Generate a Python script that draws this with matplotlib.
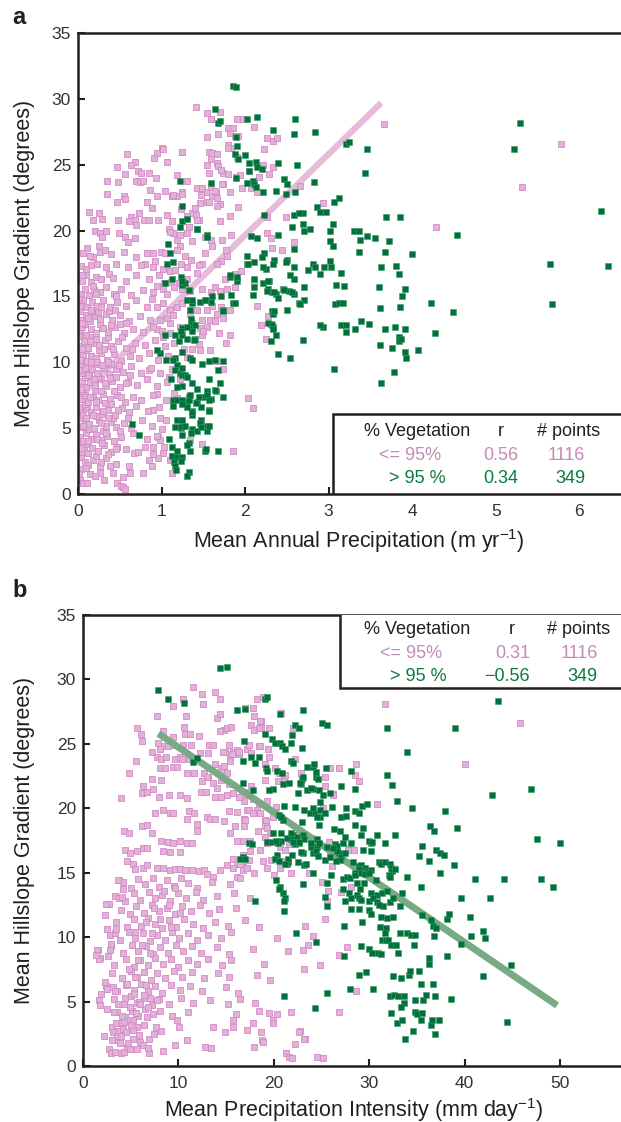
import matplotlib
matplotlib.use('Agg')
import matplotlib.pyplot as plt
from matplotlib.patches import Rectangle

plt.rcParams['font.family'] = ['Liberation Sans', 'DejaVu Sans']
plt.rcParams['mathtext.fontset'] = 'custom'
plt.rcParams['mathtext.rm'] = 'Liberation Sans'
plt.rcParams['mathtext.it'] = 'Liberation Sans:italic'
plt.rcParams['mathtext.default'] = 'regular'

# ---- panel a: mean annual precipitation (m/yr) vs hillslope gradient (deg) ----
A_PINK = [
    (1.41,29.4),(1.54,28.9),(1.59,28.5),(1.70,29.0),(1.80,27.8),(1.85,27.8),(1.82,27.4),(1.88,27.2),(1.92,27.2),
    (1.90,28.5),(1.97,28.5),(2.11,27.9),(1.67,27.3),(1.54,27.1),(1.80,26.5),(1.83,26.3),(1.25,26.0),(1.00,26.3),
    (0.94,25.9),(0.91,25.5),(0.59,25.8),(0.68,25.2),(0.63,25.0),(0.47,24.8),(0.35,23.8),(0.48,23.7),(0.56,24.3),
    (0.72,24.5),(0.76,24.4),(0.70,23.8),(0.74,23.7),(0.78,23.8),(0.85,24.4),(0.35,22.8),(0.47,22.2),(0.55,22.6),
    (0.56,22.4),(0.13,21.4),(0.25,21.3),(0.29,20.9),(0.18,20.8),(0.11,18.7),(0.25,18.8),(0.26,18.4),(0.32,18.5),
    (0.48,20.8),(0.63,21.0),(0.61,20.7),(0.68,20.8),(0.73,21.3),(0.70,20.4),(0.79,20.8),(0.85,20.8),(0.88,21.7),
    (0.82,22.2),(0.94,22.6),(1.04,23.0),(1.12,22.6),(1.18,22.6),(1.24,22.9),(1.30,23.8),(1.42,23.2),(1.49,23.2),
    (1.55,22.9),(1.46,22.1),(1.54,22.2),(1.60,22.6),(1.65,22.9),(1.70,22.0),(1.74,23.5),(1.82,22.9),(1.54,25.0),
    (1.59,25.4),(1.66,25.1),(1.73,24.4),(1.79,24.3),(1.57,24.4),(1.57,26.0),(1.61,25.9),(1.66,25.8),(1.23,21.6),
    (1.36,21.3),(1.45,20.8),(1.33,20.3),(1.09,20.1),(1.14,19.8),(1.18,19.3),(1.22,18.8),(0.99,18.4),(0.90,18.3),
    (0.82,18.3),(0.80,17.5),(0.90,17.2),(0.49,19.8),(0.56,19.5),(0.60,19.1),(0.68,19.4),(0.20,20.0),(0.26,19.8),
    (0.29,19.5),(0.33,20.0),(0.18,18.0),(0.23,17.5),(0.37,16.7),
    (2.26,19.8),(2.31,19.4),(2.44,18.5),(2.58,19.1),(2.66,23.4),(3.66,28.1),(5.78,26.6),(5.32,23.3),(4.28,20.3),
    (2.93,22.1),(2.49,21.0),(2.32,18.7),(2.26,21.0),(2.21,25.0),(2.29,24.3),(2.33,24.8),(2.26,27.0),(2.33,26.8),
    (2.38,27.0),(2.23,26.2),(2.14,22.9),(2.17,24.1),(2.11,16.2),(2.14,14.3),(2.27,13.5),(2.19,12.8),(2.25,11.8),
    (2.03,7.3),(2.10,6.5),(1.86,3.3),(1.82,12.1),(1.77,11.5),
    (1.02,26.2),(1.06,25.2),(1.24,26.0),(1.79,26.3),(1.90,25.6),(1.67,24.9),(1.71,24.6),(1.89,24.1),(1.94,24.2),
    (2.05,24.5),(1.18,24.2),(0.93,24.0),(0.86,23.1),(1.59,23.3),(1.64,23.0),(1.72,23.5),(1.96,23.2),(2.07,23.2),
    (1.14,22.7),(1.24,22.8),(1.47,22.7),(1.66,22.5),(1.57,22.2),(1.66,21.9),(1.40,21.7),(0.96,20.8),(1.06,21.2),
    (1.12,20.7),(1.30,21.1),(1.41,21.2),(1.43,20.8),(1.70,20.7),(1.82,21.1),(1.92,21.8),
    (1.10,19.9),(1.22,19.7),(1.31,19.8),(1.37,19.2),(1.52,19.5),(1.59,19.3),(1.72,19.3),(1.83,19.7),(1.61,18.8),
    (1.52,18.3),(1.77,18.5),(1.78,18.1),(1.71,17.7),(1.66,17.5),(1.49,17.5),(1.45,17.4),(1.35,17.8),(1.28,18.1),
    (1.19,18.5),(1.04,18.3),(0.92,17.7),(1.02,17.1),(1.10,16.9),(1.16,17.0),(1.23,17.5),(1.30,17.2),(1.42,16.8),
    (1.30,16.3),(1.21,16.0),(1.11,16.1),(1.03,16.0),(0.94,15.8),(0.88,14.8),(1.02,15.6),(1.24,15.6),(1.34,15.4),
    (1.49,15.6),(1.59,15.3),(1.64,15.7),(1.70,15.4),(1.78,15.6),(1.88,15.7),(1.95,16.9),(1.88,16.7),(1.76,16.3),
    (0.94,14.2),(1.02,14.5),(1.10,14.0),(1.18,14.2),(1.25,14.5),(1.34,13.7),(1.42,14.0),(1.49,13.2),(1.58,13.2),
    (1.66,13.7),(1.73,13.4),(1.82,14.0),(0.86,13.2),(0.98,13.2),(1.10,13.0),(1.22,12.7),(1.37,13.0),(1.54,12.7),
    (1.54,14.0),(1.60,14.3),(1.71,14.2),(1.69,12.2),(1.64,13.1),(1.46,12.6),(1.49,12.1),(1.10,12.2),(1.02,11.9),
    (0.94,12.5),(1.27,11.0),(1.36,11.0),(1.46,10.9),(1.58,10.9),(1.65,10.1),(1.74,9.5),(0.85,9.4),(0.98,9.2),
    (1.09,8.9),(1.22,8.7),(1.18,7.3),(1.05,7.1),(0.94,7.6),(0.90,6.4),(0.98,5.8),(1.05,5.6),(1.00,4.9),(0.96,4.3),
    (0.90,3.6),(1.03,3.6),(1.12,2.9),(1.10,2.6),(1.34,4.1),(1.49,3.8),(1.13,1.6),(1.02,3.1),(0.96,2.7),
    (0.02,1.1),(0.06,0.8),(0.11,0.8),(0.26,1.6),(0.31,1.1),(0.47,0.8),(0.51,0.6),(0.54,0.5),(0.56,0.4),(0.54,1.3),
    (0.42,1.6),(0.38,2.1),(0.26,2.1),(0.18,2.6),(0.61,2.1),(0.62,1.6),(0.67,3.1),(0.85,2.6),(0.88,2.1),(0.78,1.6),
    (0.98,4.1),(0.80,3.6),(0.03,1.9),(0.08,2.4),(0.14,1.5),(0.22,2.9),(0.34,2.7),(0.45,2.3),(0.04,2.8),(0.12,2.2),
    (0.03,3.2),(0.07,3.6),(0.12,3.1),(0.17,3.5),(0.24,3.3),(0.31,3.7),(0.40,3.2),(0.47,3.6),(0.58,3.4),(0.72,3.2),
    (0.90,3.0),(0.10,3.8),(0.36,3.0),
    (0.02,4.3),(0.06,4.0),(0.10,4.6),(0.15,4.2),(0.21,4.5),(0.27,4.1),(0.35,4.4),(0.43,4.0),(0.52,4.3),(0.66,4.6),
    (0.83,4.2),(0.95,4.4),(0.13,4.9),(0.30,4.8),
    (0.04,5.1),(0.08,5.5),(0.13,5.3),(0.19,5.0),(0.25,5.6),(0.33,5.2),(0.39,5.5),(0.46,5.1),(0.55,5.4),(0.63,5.0),
    (0.77,5.6),(0.88,5.2),(0.02,5.8),(0.22,5.9),(0.42,5.8),
    (0.02,6.3),(0.06,6.0),(0.11,6.5),(0.16,6.2),(0.22,6.6),(0.29,6.1),(0.36,6.4),(0.44,6.0),(0.53,6.5),(0.61,6.2),
    (0.70,6.7),(0.84,6.3),(0.97,6.6),(0.08,6.8),(0.32,6.9),
    (0.03,7.2),(0.08,7.5),(0.12,7.0),(0.18,7.4),(0.24,7.1),(0.30,7.6),(0.38,7.2),(0.47,7.5),(0.56,7.0),(0.66,7.4),
    (0.75,7.1),(0.90,7.5),(1.15,7.7),(0.05,7.8),(0.20,7.9),(0.43,7.8),
    (0.02,8.2),(0.05,8.6),(0.10,8.1),(0.14,8.5),(0.20,8.3),(0.27,8.7),(0.34,8.2),(0.41,8.6),(0.50,8.1),(0.60,8.5),
    (0.71,8.3),(0.82,8.7),(0.94,8.2),(1.06,8.5),(0.08,8.9),(0.24,8.9),(0.46,8.9),
    (0.04,9.2),(0.08,9.6),(0.13,9.1),(0.17,9.5),(0.23,9.2),(0.31,9.6),(0.37,9.1),(0.45,9.5),(0.54,9.3),(0.64,9.7),
    (0.76,9.2),(0.87,9.6),(1.12,9.5),(0.02,9.9),(0.20,9.9),(0.40,9.9),
    (0.02,10.2),(0.06,10.6),(0.11,10.1),(0.15,10.5),(0.21,10.3),(0.28,10.7),(0.35,10.2),(0.43,10.6),(0.51,10.1),
    (0.62,10.5),(0.73,10.3),(0.85,10.7),(0.96,10.2),(1.08,10.5),(1.30,10.4),(0.09,10.9),(0.25,10.9),
    (0.03,11.2),(0.07,11.6),(0.12,11.1),(0.18,11.5),(0.25,11.3),(0.32,11.7),(0.40,11.2),(0.48,11.6),(0.58,11.1),
    (0.68,11.5),(0.80,11.3),(0.92,11.7),(1.04,11.2),(1.15,11.5),(1.45,11.4),(0.14,11.9),(0.36,11.9),
    (0.02,12.3),(0.05,12.7),(0.10,12.1),(0.16,12.5),(0.22,12.2),(0.29,12.6),(0.36,12.3),(0.44,12.7),(0.55,12.2),
    (0.66,12.5),(0.78,12.3),(0.90,12.7),(1.01,12.4),(1.50,12.4),(0.08,12.9),(0.26,12.9),(0.50,12.9),
    (0.04,13.2),(0.09,13.6),(0.14,13.1),(0.20,13.5),(0.26,13.3),(0.33,13.7),(0.41,13.2),(0.50,13.6),(0.61,13.1),
    (0.74,13.5),(1.06,13.4),(1.14,13.6),(0.02,13.9),(0.17,13.9),(0.37,13.9),
    (0.02,14.3),(0.06,14.7),(0.11,14.2),(0.17,14.6),(0.23,14.3),(0.30,14.7),(0.38,14.2),(0.47,14.6),(0.57,14.3),
    (0.70,14.7),(0.83,14.2),
    (0.03,15.2),(0.08,15.6),(0.13,15.1),(0.19,15.5),(0.26,15.3),(0.34,15.7),(0.43,15.2),(0.52,15.6),(0.64,15.1),
    (0.78,15.5),(0.90,15.3),(1.07,15.2),(1.15,15.7),
    (0.05,16.2),(0.10,16.6),(0.15,16.1),(0.21,16.5),(0.28,16.3),(0.42,16.4),(0.57,16.2),(0.70,16.6),(0.85,16.3),
    (0.97,16.6),(0.04,17.3),(0.09,17.1),(0.16,17.4),(0.33,17.2),(0.45,17.5),(0.60,17.2),(0.75,17.4),
    (0.06,18.3),(0.14,18.1),(0.40,18.2),(0.55,18.4),(0.70,18.0),
    (0.01,1.5),(0.04,3.5),(0.06,5.2),(0.01,6.6),(0.04,8.0),(0.01,9.4),(0.05,11.0),(0.01,12.0),(0.05,13.0),
    (0.01,14.8),(0.05,16.6),(0.10,2.0),(0.12,4.0),(0.10,5.8),(0.14,7.4),(0.12,9.0),(0.16,10.0),(0.14,11.6),
    (0.12,13.4),(0.16,14.0),(0.18,15.8),(0.20,1.4),(0.23,4.2),(0.18,6.0),(0.22,7.0),(0.19,8.7),(0.23,10.0),
    (0.21,11.8),(0.24,13.8),(0.22,15.2),(0.28,2.4),(0.29,3.9),(0.27,5.4),(0.30,6.3),(0.28,7.8),(0.32,8.4),
    (0.29,9.8),(0.31,11.0),(0.30,12.6),(0.28,14.2),(0.33,4.6),(0.36,5.8),(0.40,6.8),(0.38,8.8),(0.36,10.0),
    (0.42,11.0),(0.39,12.8),(0.44,14.0),(0.46,3.4),(0.50,4.8),(0.48,6.4),(0.52,7.4),(0.49,9.8),(0.53,11.9),
    (0.57,13.0),(0.45,15.0),(0.60,5.8),(0.58,8.4),(0.62,9.0),(0.65,11.0),
]

A_GREEN = [
    (1.85,31.0),(1.89,30.9),(1.64,29.2),(2.02,28.5),(2.14,28.6),(2.60,28.5),(1.68,28.2),(1.70,28.3),
    (2.33,27.6),(2.59,27.3),(2.84,27.5),(3.21,26.6),(3.24,26.7),(3.46,26.2),(1.90,26.4),(1.89,27.1),
    (1.88,25.8),(1.92,25.4),(2.00,25.7),(2.05,25.1),(2.13,25.2),(2.14,24.8),(2.20,24.7),(2.39,25.1),(2.62,25.0),
    (3.43,24.4),(2.82,23.7),(2.05,24.5),(2.09,23.8),(2.11,23.5),(2.13,23.3),(2.47,23.9),(2.50,23.5),
    (2.21,22.9),(2.37,23.0),(2.49,22.8),(2.60,22.9),(1.59,23.6),(1.89,24.0),(1.22,23.8),
    (3.12,22.5),(3.07,22.2),(2.86,21.8),(2.90,21.4),(2.97,21.4),(2.69,21.3),(3.05,20.5),(2.69,20.5),(2.71,20.0),
    (2.78,20.1),(3.02,20.0),(3.69,21.0),(3.86,21.0),(3.30,20.0),(3.36,20.0),(3.37,19.3),(3.46,19.6),(3.55,19.4),
    (3.72,19.2),(3.02,19.2),(3.05,18.8),(3.36,18.4),(3.67,18.4),(4.00,18.2),(4.54,19.7),(3.02,17.7),(3.03,17.2),
    (2.81,17.5),(2.84,17.2),(2.75,17.0),(2.94,17.2),(2.90,16.7),(3.15,16.8),(3.63,17.2),(3.81,17.3),(3.84,16.7),
    (5.29,28.2),(5.22,26.2),(6.26,21.5),(5.65,17.5),(6.34,17.3),
    (3.60,15.7),(3.92,15.6),(2.71,15.7),(3.09,15.9),(3.19,15.8),(2.71,14.7),(2.65,14.5),(3.08,14.4),(3.13,14.5),
    (3.17,14.5),(3.61,14.1),(3.88,15.0),(3.86,14.2),(4.22,14.5),(4.49,13.8),(5.68,14.4),(2.93,12.7),(3.15,12.8),
    (3.21,12.8),(3.21,12.3),(3.31,12.5),(3.39,13.1),(3.48,12.9),(3.67,12.5),(3.79,12.7),(3.91,12.5),(2.69,11.7),
    (3.84,11.9),(3.84,11.6),(3.87,11.8),(3.62,11.3),(3.76,11.1),(3.91,10.8),(3.93,10.3),(4.07,10.9),(4.27,12.2),
    (3.07,9.5),(3.78,9.3),(3.63,8.4),
    (2.23,21.2),(2.56,20.3),(2.58,21.2),(2.64,21.3),(1.43,20.1),(1.54,19.7),(2.07,19.6),(2.14,19.4),(2.40,19.7),
    (2.59,18.6),(2.02,18.1),(2.23,18.3),(2.20,18.0),(2.50,17.8),(2.49,17.6),(2.35,17.8),(2.33,17.5),(2.25,17.1),
    (2.21,17.2),(2.02,17.5),(2.11,17.6),(2.58,17.2),(2.59,16.3),(2.54,16.6),(2.29,16.2),(2.27,15.6),(2.32,15.3),
    (2.37,15.2),(2.40,14.9),(2.45,15.6),(2.52,15.4),(2.58,15.2),(2.11,15.7),(2.10,15.1),(1.82,16.5),(1.90,16.2),
    (2.50,14.0),(2.32,13.9),(2.34,13.7),(2.31,12.9),(2.33,12.7),(2.66,14.4),(1.59,14.6),(1.53,14.7),(1.74,14.0),
    (1.86,14.5),(2.90,12.8),
    (1.30,14.7),(1.37,14.5),(1.46,14.6),(1.35,13.3),(1.35,12.9),(1.37,12.6),(1.40,12.8),(1.04,12.1),(1.24,12.1),
    (1.25,12.6),(1.40,11.8),(1.30,11.8),(1.21,11.6),(1.24,10.8),(1.34,10.3),(1.16,10.3),(1.19,9.8),(1.16,9.4),
    (1.22,9.2),(1.25,9.0),(1.28,9.0),(1.37,8.4),(1.25,8.2),(1.74,10.1),(1.57,10.1),(1.57,8.7),(1.55,7.8),
    (1.65,7.8),(1.73,7.4),(1.59,7.2),(1.52,7.4),(1.43,7.0),(1.33,7.4),(1.30,7.0),(1.57,6.4),(1.37,6.3),(1.36,6.0),
    (1.47,5.6),(1.55,5.2),(1.54,4.8),(1.19,5.6),(1.24,5.2),(1.25,4.5),(1.37,4.9),(1.43,4.8),(1.35,4.6),(1.23,5.0),
    (1.09,4.2),(1.33,3.9),(1.13,3.6),(1.18,3.3),(1.30,3.7),(1.34,3.3),(1.13,2.9),(1.18,2.8),(1.25,2.8),(1.23,2.5),
    (1.15,2.4),(1.16,2.1),(1.17,1.8),(1.33,1.7),(1.30,1.4),(1.52,3.3),(1.68,3.3),
    (2.39,10.6),(2.54,10.3),(0.65,5.3),(0.73,4.5),(1.04,16.0),(1.13,16.3),(1.06,17.5),(1.23,16.5),(1.25,15.9),
    (1.28,16.0),(1.33,15.5),(1.23,12.4),(1.16,12.1),(1.37,12.4),(1.39,11.7),(1.52,14.7),(1.61,15.0),(1.71,15.0),
    (1.83,15.1),(1.88,14.5),(1.74,13.9),(1.82,16.6),(2.03,17.5),(2.11,16.3),(2.21,16.0),(2.28,16.2),(2.26,15.4),
    (2.35,15.3),(2.46,15.5),(2.56,15.3),(2.35,13.9),(2.28,13.0),(2.32,12.8),(2.33,12.5),(2.37,12.1),(2.31,11.6),
    (1.49,9.9),(1.64,10.2),(1.68,9.4),(1.64,7.9),(1.70,8.4),(1.54,7.5),(1.57,7.1),(1.47,6.6),(1.57,6.3),(1.46,5.4),
    (1.47,5.1),(1.57,5.2),(1.53,3.4),(1.41,6.9),(1.37,6.2),(1.33,7.1),(1.30,6.6),(1.34,7.5),(1.45,7.4),(1.42,8.0),
    (1.14,6.7),(1.14,7.1),(1.18,7.1),(1.24,7.1),(1.25,6.8),(1.25,5.6),(1.23,5.1),(1.28,5.2),(1.16,5.1),
    (0.98,10.7),(0.94,10.9),(1.05,10.2),(1.14,10.2),(1.11,8.7),(1.18,8.1),(1.25,9.6),(1.30,8.9),(1.36,10.2),
    (1.08,19.0),(1.22,20.3),(1.25,20.7),(1.10,18.3),(1.14,17.6),(1.25,16.2),(1.37,14.7),(1.34,14.0),(1.30,12.7),
    (1.54,19.5),(1.90,16.5),(1.25,21.9),(1.30,20.9),(1.42,20.1),(2.02,23.6),
]

A_FIT_X = [0.0, 3.63]
A_FIT_Y = [7.3, 29.7]

# ---- panel b: mean precipitation intensity (mm/day) vs hillslope gradient (deg) ----
B_PINK = [
    (11.5,29.4),(12.5,28.9),(13.8,29.0),(14.4,28.5),(10.5,28.5),(12.6,28.1),(9.4,27.9),(7.8,27.2),(10.8,27.2),
    (14.0,27.0),(14.4,27.3),(14.8,26.1),(15.1,26.2),(15.5,26.3),(5.7,26.2),(6.1,25.8),(6.2,25.2),(10.6,26.3),
    (10.7,25.8),(11.2,25.8),(12.2,25.6),(8.4,24.8),(8.9,24.8),(7.2,24.4),(8.1,24.6),(7.8,24.0),(8.2,23.8),
    (8.7,24.0),(9.6,23.8),(10.2,24.0),(5.6,23.7),(4.8,22.7),(8.1,23.1),(8.6,23.1),(9.4,23.2),(9.9,23.2),
    (10.9,22.7),(11.6,22.7),(12.7,22.7),(13.1,22.4),(7.2,22.3),(8.2,22.2),(6.3,21.7),(6.2,21.2),(6.7,21.3),
    (7.3,21.5),(4.0,20.8),(8.0,20.9),(9.0,21.0),(10.2,21.0),(10.9,20.8),(12.4,21.3),(12.9,21.3),(13.8,20.9),
    (14.5,20.9),(15.1,21.0),(14.5,23.1),(14.8,23.3),(15.4,23.8),(15.7,24.4),(16.4,24.2),(14.9,24.4),(17.2,24.6),
    (17.8,27.8),(17.9,27.2),(18.7,26.8),(17.6,26.5),(17.9,26.1),(18.7,26.2),(18.4,24.8),(19.4,24.6),(19.5,24.0),
    (19.1,23.4),(8.4,26.0),(7.9,25.1),(9.4,25.5),(9.4,24.9),(11.3,24.9),(10.5,24.9),(13.2,24.9),(13.1,24.3),
    (12.3,24.3),(11.1,23.8),(10.4,23.8),(14.4,26.0),(13.6,24.9),(14.7,24.4),(15.3,24.9),(16.1,24.5),
    (13.8,23.4),(14.6,22.8),(15.1,22.7),(13.0,22.4),(12.5,22.1),(13.6,22.0),(14.0,21.6),(14.5,22.2),(15.3,21.9),
    (15.7,21.2),(16.5,20.9),(17.4,21.3),(17.8,20.7),(17.2,19.9),(18.2,19.8),(19.3,20.6),(19.1,19.1),(20.5,22.7),
    (20.4,22.1),(20.1,23.1),(21.1,22.3),(22.9,22.7),(22.2,23.8),(20.8,27.4),(18.6,26.8),(18.4,26.2),
    (31.7,28.1),(45.8,26.6),(40.0,23.4),(30.8,20.3),(25.9,23.1),(26.8,23.1),(28.6,23.4),(25.4,22.4),(28.5,22.6),
    (28.9,22.1),(26.2,21.1),(25.2,20.0),(23.9,17.7),(25.8,17.4),(27.9,16.8),(28.4,16.8),
    (17.0,27.8),(18.2,28.5),(18.9,28.6),(22.0,26.2),(19.5,26.2),(17.4,24.9),(18.6,24.8),(17.6,24.3),(16.4,24.4),
    (15.6,24.2),(15.4,23.7),(21.2,22.6),(19.1,22.2),(25.4,21.7),(26.2,21.0),
    (17.6,21.7),(17.1,21.2),(16.9,20.6),(17.4,19.9),(18.2,19.9),(18.4,20.4),(16.7,21.0),(16.4,20.9),(20.2,20.1),
    (20.1,19.7),(19.9,19.3),(19.2,19.0),(19.1,18.6),(19.3,18.5),(19.6,18.1),(19.1,17.8),(19.3,17.3),(18.3,18.2),
    (16.9,19.2),(16.9,18.6),(15.9,18.6),(15.4,18.1),(16.1,17.5),(16.8,17.5),(17.5,17.5),(22.6,18.3),(23.9,17.5),
    (27.8,16.9),(25.9,16.7),(20.7,17.0),(21.6,17.2),(21.2,16.8),(18.6,16.8),(17.5,16.7),(16.8,16.4),(17.4,16.0),
    (15.7,16.1),(16.1,15.7),(16.8,15.9),(18.9,15.9),(20.8,15.9),(19.3,15.4),(20.7,15.4),(21.8,15.0),(20.0,14.8),
    (17.9,15.0),(16.8,15.2),(16.1,14.7),(19.7,16.0),
    (23.7,15.0),(26.1,15.5),(27.8,16.8),(28.1,13.9),(27.0,13.5),(25.1,14.3),(25.7,13.6),(25.6,12.8),(25.4,11.4),
    (23.3,10.9),(24.1,10.1),(23.6,9.4),(23.1,9.0),(27.7,9.2),(26.8,8.6),(23.2,7.5),(24.8,7.8),(28.6,5.8),
    (26.8,4.2),(23.3,2.1),(24.5,0.7),(25.2,0.6),(22.7,2.7),
    (8.4,19.9),(7.5,19.6),(9.1,19.6),(9.4,19.6),(11.1,19.8),(11.6,19.6),(10.9,19.2),(12.0,18.8),(12.0,18.2),
    (13.0,19.3),(13.3,19.2),(13.8,19.2),(14.8,19.0),(15.3,19.8),(16.1,19.7),(17.0,19.1),(17.8,19.6),(18.6,19.6),
    (4.3,18.2),(4.8,18.1),(6.2,18.6),(6.7,18.7),(7.2,18.1),(8.2,17.5),(8.9,17.4),(9.4,17.3),(10.2,17.5),
    (10.9,17.3),(11.4,17.3),(8.4,16.7),(9.1,16.6),(10.2,16.6),(4.4,16.8),(4.9,16.5),(5.7,16.7),(6.3,16.9),
    (6.7,16.9),(3.8,14.4),(4.2,13.7),(4.6,15.9),(5.2,15.7),(5.5,15.3),(6.3,15.4),(6.7,15.6),(7.8,15.4),(8.4,15.4),
    (9.1,15.2),(9.6,15.3),(10.2,15.3),(10.7,15.2),(11.4,15.2),(12.2,15.1),(12.7,15.2),(13.0,14.9),(13.6,14.7),
    (14.4,15.2),(15.1,15.6),(15.7,15.4),(16.5,15.7),(17.2,15.4),
    (4.2,14.3),(5.0,13.8),(5.8,14.5),(6.5,14.1),(7.3,14.6),(8.0,13.9),(8.8,14.4),(9.5,14.0),(10.3,14.6),(11.0,14.2),
    (12.0,13.8),(13.5,14.3),(15.4,14.1),(16.5,14.6),
    (3.4,13.2),(4.4,12.8),(5.3,13.4),(6.0,12.9),(6.9,13.5),(7.6,13.0),(8.3,13.3),(9.1,12.8),(10.0,13.4),(10.8,13.0),
    (11.8,13.5),(12.6,12.9),(14.0,13.2),(15.8,13.4),(17.5,13.0),
    (2.7,12.6),(4.0,12.1),(4.9,11.8),(5.6,12.4),(6.4,11.9),(7.2,12.5),(8.0,12.0),(8.8,12.3),(9.6,11.8),(10.4,12.4),
    (11.3,12.0),(12.3,12.5),(13.2,11.9),(14.3,12.2),(16.0,12.3),
    (3.5,11.2),(4.6,10.8),(5.3,11.4),(6.1,10.9),(6.8,11.5),(7.5,11.0),(8.3,10.7),(9.0,11.3),(9.8,10.8),(10.6,11.4),
    (11.5,11.0),(12.6,10.7),(13.8,11.2),(15.2,10.9),(17.0,11.3),(18.5,10.8),
    (2.8,10.2),(3.9,9.8),(4.8,10.4),(5.5,9.9),(6.3,10.3),(7.0,9.7),(7.8,10.2),(8.6,9.8),(9.3,10.4),(10.1,9.9),
    (11.0,10.3),(12.0,9.8),(13.1,10.2),(14.5,9.9),(15.5,10.4),(20.3,9.9),
    (1.6,9.0),(2.9,9.3),(4.2,8.8),(5.1,9.4),(5.8,8.9),(6.6,9.3),(7.3,8.7),(8.1,9.2),(8.9,8.8),(9.7,9.4),(10.5,8.9),
    (11.4,9.3),(12.4,8.8),(14.0,9.2),(15.3,8.7),(17.8,9.1),(21.5,8.9),
    (1.8,8.4),(3.3,7.8),(4.5,8.3),(5.3,7.7),(6.0,8.2),(6.8,7.8),(7.6,8.4),(8.4,7.9),(9.2,8.3),(10.0,7.7),(11.0,8.2),
    (12.0,7.9),(13.1,8.3),(14.6,7.8),(15.5,8.2),(19.0,7.9),
    (3.0,7.2),(4.1,6.8),(5.0,7.4),(5.7,6.9),(6.4,7.3),(7.1,6.7),(7.8,7.2),(8.6,6.8),(9.5,7.4),(10.4,6.9),(11.4,7.3),
    (12.7,6.8),(14.1,7.2),(15.3,6.9),(18.2,7.1),(19.6,6.7),
    (2.4,6.2),(3.6,5.8),(4.5,6.3),(5.3,5.9),(6.1,6.4),(6.8,5.8),(7.5,6.2),(8.3,5.7),(9.2,6.3),(10.2,5.9),(11.2,6.2),
    (12.5,5.8),(15.0,6.1),(16.2,5.7),
    (3.3,5.2),(4.3,4.8),(5.0,5.4),(5.7,4.9),(6.4,5.3),(7.2,4.7),(8.0,5.2),(9.0,4.8),(10.3,5.3),(11.5,4.9),(13.3,5.1),
    (15.2,4.8),(16.5,5.2),(18.0,4.9),
    (3.6,4.2),(4.4,3.8),(5.1,4.3),(5.8,3.9),(6.5,4.4),(7.3,4.0),(8.1,4.3),(9.3,3.9),(11.0,4.2),(16.0,4.0),(18.5,4.3),
    (1.5,9.0),(1.7,8.3),(1.4,8.6),(1.7,5.1),(1.8,4.7),(1.9,5.6),(2.3,11.7),(2.4,12.6),(2.5,10.6),(3.4,10.3),
    (3.5,10.6),(2.9,9.5),(2.8,9.0),(2.6,8.5),(3.7,14.4),(3.8,13.0),(4.1,13.1),(2.3,6.5),(2.5,6.0),(3.1,6.1),
    (2.5,4.4),(2.2,2.3),(2.7,1.3),(2.9,1.0),(3.4,1.1),(3.2,2.0),(3.0,3.0),(3.1,2.6),(3.6,2.3),(3.9,1.8),(4.0,1.0),
    (4.3,1.1),(4.6,1.5),(4.9,1.3),(3.8,2.7),(4.2,2.9),(4.5,2.6),(3.9,3.3),(4.6,3.6),(5.7,1.3),(5.2,2.1),(6.0,1.9),
    (5.7,3.0),(6.4,3.2),(5.2,3.6),(6.7,3.8),(6.9,2.1),(7.4,2.5),(8.2,2.7),(6.8,4.6),(5.9,5.0),(7.8,5.1),(6.9,1.0),
    (8.4,1.2),(9.6,1.6),(9.9,3.6),(10.1,3.0),(10.9,2.0),(12.8,1.5),(13.4,1.4),(13.6,3.0),(14.9,2.6),(15.7,3.0),
    (15.7,3.6),(17.2,2.8),(17.8,3.3),(18.8,2.0),(18.9,1.9),(17.9,1.5),(18.7,2.6),(19.5,4.1),(19.9,3.6),(21.3,1.0),
    (21.6,0.7),(21.9,0.6),(22.2,1.7),(22.6,2.6),(23.2,2.1),(21.8,4.2),(20.3,4.0),(19.9,3.3),
    (3.2,4.2),(3.7,4.8),(4.1,3.9),(4.4,5.3),(4.9,4.6),(5.3,5.6),(5.6,4.1),(6.0,4.8),(6.4,5.5),(3.5,3.3),(4.0,2.3),
    (4.7,1.8),(5.2,2.8),(5.9,2.4),(6.3,1.6),(3.4,5.8),(4.6,6.4),(5.5,6.9),(6.6,6.3),(7.0,5.3),(4.3,3.4),(5.0,3.2),
    (3.0,2.0),(6.8,1.4),(7.7,3.0),(4.8,7.5),(5.8,8.2),(6.2,9.4),(7.0,8.8),(5.4,10.4),(6.6,11.2),(7.4,12.3),
    (8.5,13.6),(7.2,10.3),(8.1,11.4),(9.0,12.5),(9.6,13.8),(9.2,10.8),(10.2,11.9),
]

B_GREEN = [
    (7.9,29.2),(8.9,28.5),(10.6,28.2),(14.4,30.9),(15.1,31.0),(16.1,27.6),(19.1,28.5),(19.3,28.6),(20.7,27.3),
    (23.1,27.6),(22.2,26.5),(22.6,26.2),(21.9,25.7),(21.8,25.1),(23.0,24.7),(16.9,25.2),(16.8,23.7),(17.6,24.0),
    (18.4,24.0),(18.0,23.5),(19.1,25.8),(19.8,25.4),(20.1,25.1),(20.7,25.1),(20.9,24.8),(21.2,24.6),(19.2,23.1),
    (19.3,22.9),(20.3,22.9),(20.9,22.7),(21.8,23.7),(22.0,23.5),(23.5,23.2),(24.1,23.2),(24.4,22.4),(23.0,22.3),
    (22.9,21.9),(21.0,21.9),(21.6,22.0),(19.9,21.5),(19.5,21.4),(16.8,22.0),(17.8,21.4),(11.5,23.6),(11.9,23.9),
    (22.5,21.2),(23.5,21.4),(24.1,21.5),(24.7,21.4),(21.1,20.2),(22.2,20.1),(23.2,19.9),(23.8,19.6),(24.3,19.6),
    (24.8,19.9),(24.8,19.3),(20.5,19.5),(21.0,19.1),(19.9,18.1),(22.0,17.9),(21.8,17.6),(23.1,17.9),(23.2,17.6),
    (21.4,17.7),(20.8,17.5),(24.5,17.6),(23.9,17.0),(24.1,16.5),(23.1,16.5),(17.4,17.3),(19.3,17.4),(16.8,16.2),
    (16.5,16.1),(17.7,17.2),(20.4,17.3),(20.3,16.4),(20.1,16.1),(20.5,15.9),(21.4,15.7),(21.5,15.8),(22.5,15.8),
    (23.2,15.6),(22.2,17.2),(22.6,17.3),(24.1,15.0),(20.2,14.4),(20.6,13.9),(21.0,13.4),(21.2,13.0),(21.1,12.8),
    (18.0,12.8),(21.1,12.0),(23.1,14.1),(22.3,10.3),(24.4,9.6),(21.1,5.4),(24.3,4.5),
    (24.5,17.0),(25.6,17.0),(26.4,17.2),(26.6,17.1),(27.3,17.3),(28.1,17.3),(30.2,17.3),(31.7,17.3),(35.5,17.1),
    (37.0,16.8),(37.4,16.5),(37.8,16.4),(38.9,15.6),(36.3,15.9),(35.2,16.3),(24.4,16.7),(26.8,16.5),(27.0,16.2),
    (26.9,16.0),(26.5,15.9),(29.4,16.8),(30.2,16.7),
    (28.3,15.8),(28.9,15.5),(29.1,15.6),(28.9,15.3),(29.6,15.4),(29.1,15.0),(29.8,15.1),(30.2,15.2),(29.6,14.9),
    (30.0,15.0),(28.5,15.0),(31.0,15.8),(31.2,15.7),(31.7,15.8),(32.2,15.7),(32.3,15.4),(32.4,15.1),(32.7,15.3),
    (32.1,14.8),(32.2,14.7),(26.0,14.8),(27.3,14.5),(27.7,14.7),(28.0,14.6),(28.5,14.8),(28.7,14.2),(29.5,14.2),
    (30.7,14.4),(34.0,14.7),(35.4,13.9),(37.4,15.0),(41.1,14.5),(44.1,14.5),(48.0,14.5),(49.3,13.9),
    (25.6,14.2),(27.3,13.7),(27.9,13.4),(29.0,13.7),(30.2,13.4),(30.8,13.3),(31.3,13.4),(31.9,13.6),(33.4,13.4),
    (28.7,13.3),(28.1,13.0),(28.9,13.0),(29.1,12.9),(30.0,12.8),(30.4,13.0),(30.8,12.7),(31.4,12.4),(32.2,12.7),
    (32.5,13.0),(27.5,12.8),(25.4,13.1),(25.6,12.4),(28.1,12.2),(28.9,12.2),(30.0,12.1),(30.2,11.8),(31.2,11.6),
    (31.9,11.5),(32.5,11.6),(33.2,12.4),(31.0,12.5),
    (27.4,10.9),(29.2,11.2),(31.1,10.8),(31.8,10.7),(31.7,10.3),(33.2,10.3),(34.0,10.3),(34.4,10.2),(34.8,10.2),
    (35.5,11.7),(36.5,11.3),(36.7,10.9),(37.0,10.7),(36.8,10.1),(38.2,11.4),(38.4,11.8),(39.6,13.0),(40.6,11.6),
    (40.7,10.1),(41.9,10.5),(42.1,9.9),(42.7,13.0),(39.6,9.5),(38.2,8.5),
    (29.1,9.3),(30.0,9.1),(30.3,8.8),(30.9,8.8),(31.2,8.7),(31.3,9.8),(31.8,9.8),(32.0,9.8),(32.3,9.4),(32.8,9.4),
    (33.0,8.8),(34.7,9.4),(36.3,8.4),(36.3,7.9),(44.9,7.8),
    (27.4,8.5),(28.9,7.1),(29.7,7.3),(32.5,7.0),(33.3,6.8),(34.2,7.1),(34.3,7.4),(35.2,7.4),(35.4,6.4),(36.7,6.4),
    (41.9,7.0),(25.6,5.7),(28.0,6.0),(30.4,6.0),(32.2,5.4),(32.6,5.5),(33.0,5.4),(33.6,5.4),(33.6,4.9),(34.8,5.1),
    (35.6,5.1),(36.0,5.5),(36.9,5.4),(38.6,5.2),(33.3,4.6),(34.8,4.2),(35.0,4.0),(35.5,4.1),(32.3,4.1),(32.9,3.3),
    (33.4,3.6),(34.6,2.7),(35.4,3.6),(36.5,3.2),(36.6,3.6),(37.3,3.6),(36.9,2.5),(33.8,2.1),(44.4,3.4),
    (25.1,26.6),(25.6,26.5),(31.9,26.2),(39.0,26.2),(34.0,24.4),(31.9,22.6),(32.4,21.8),(32.9,20.6),(34.5,20.0),
    (38.0,19.8),(36.4,18.6),(36.8,18.2),(39.2,18.5),(43.5,28.3),(42.9,21.0),(47.0,21.5),(47.6,17.6),(50.0,17.3),
    (24.2,23.4),(24.4,22.8),(24.6,22.3),(25.5,23.1),(28.1,22.9),(22.7,22.0),(23.1,22.4),(23.9,21.6),(25.2,21.0),
    (25.9,21.2),(27.0,21.7),(28.5,21.5),(24.8,20.5),(24.1,20.0),(25.4,19.6),(26.1,20.1),(27.6,20.0),(29.2,20.2),
    (29.8,20.3),(27.0,19.3),(27.6,19.4),(28.5,19.8),(28.9,19.6),(24.5,19.3),(24.7,18.7),(23.0,18.9),(20.8,19.3),
    (26.3,18.4),(26.9,18.2),(27.5,17.8),(28.5,18.7),(29.4,18.5),(29.1,17.9),(30.0,17.5),(30.3,17.4),(30.8,17.9),
    (32.7,17.9),(27.5,16.5),(26.6,16.7),(20.8,18.1),(21.8,18.1),(22.4,17.8),(22.0,17.4),(22.6,17.4),(22.9,16.6),
    (23.9,17.3),(24.6,16.3),(24.7,17.3),(25.4,16.0),(25.9,16.2),(26.2,16.9),(21.5,16.1),(21.2,15.7),(23.4,15.7),
    (21.9,16.4),(17.0,16.1),(19.8,17.4),(20.2,17.5),(20.5,13.7),(17.0,27.7),
]

B_FIT_X = [7.9, 49.7]
B_FIT_Y = [25.8, 4.7]

# legend table values
LEG_CLASSES = ['<= 95%', '> 95 %']
A_R = ['0.56', '0.34']
B_R = ['0.31', '\u22120.56']
N_POINTS = ['1116', '349']

INK = '#231f20'
PINK_FACE = '#e3b0d9'
PINK_EDGE = '#d08cc2'
PINK_TEXT = '#c48cb4'
PINK_LINE = '#e7bbdb'
GREEN_FACE = '#00713a'
GREEN_EDGE = '#3c9866'
GREEN_TEXT = '#0b7a3e'
GREEN_LINE = '#78aa84'


def unzip(pts):
    return [p[0] for p in pts], [p[1] for p in pts]


def style_axes(ax, xmax, xticks):
    ax.set_xlim(0, xmax)
    ax.set_ylim(0, 35)
    ax.set_xticks(xticks)
    ax.set_yticks(range(0, 36, 5))
    ax.spines['right'].set_visible(False)
    for s in ['left', 'top', 'bottom']:
        ax.spines[s].set_color(INK)
        ax.spines[s].set_linewidth(1.8)
    ax.tick_params(direction='in', length=5, width=1.5, color=INK, labelsize=12.5,
                   labelcolor='#333333', pad=5)
    ax.tick_params(axis='x', pad=7)


def legend_table(ax, box, xs, ys, r_vals):
    ax.add_patch(Rectangle(box[0], box[1], box[2], facecolor='white', edgecolor=INK,
                           linewidth=1.8, zorder=5))
    kw = dict(fontsize=13, zorder=6, va='center')
    ax.text(xs[0], ys[0], '% Vegetation', ha='center', color=INK, **kw)
    ax.text(xs[1], ys[0], 'r', ha='center', color=INK, **kw)
    ax.text(xs[2], ys[0], '# points', ha='center', color=INK, **kw)
    cols = [PINK_TEXT, GREEN_TEXT]
    for i in range(2):
        ax.text(xs[3 + i], ys[1 + i], LEG_CLASSES[i], ha='right', color=cols[i], **kw)
        ax.text(xs[5], ys[1 + i], r_vals[i], ha='right', color=cols[i], **kw)
        ax.text(xs[6], ys[1 + i], N_POINTS[i], ha='right', color=cols[i], **kw)


fig = plt.figure(figsize=(6.21, 11.22), dpi=100)
ax_a = fig.add_axes([78 / 621, 1 - 494 / 1122, 543 / 621, 461 / 1122])
ax_b = fig.add_axes([83 / 621, 1 - 1066 / 1122, 538 / 621, 451 / 1122])

MS = 15

# panel a
style_axes(ax_a, 6.5, range(0, 7))
ax_a.plot(A_FIT_X, A_FIT_Y, color=PINK_LINE, lw=4.5, solid_capstyle='butt', zorder=1)
x, y = unzip(A_PINK)
ax_a.scatter(x, y, s=MS, marker='s', c=PINK_FACE, edgecolors=PINK_EDGE, linewidths=0.6, zorder=2)
x, y = unzip(A_GREEN)
ax_a.scatter(x, y, s=MS, marker='s', c=GREEN_FACE, edgecolors=GREEN_EDGE, linewidths=0.4, zorder=3)
legend_table(ax_a, ((3.05, 0), 5, 6.07),
             [4.06, 5.06, 5.87, 4.35, 4.40, 5.27, 6.07], [4.71, 2.89, 1.14], A_R)
ax_a.set_ylabel('Mean Hillslope Gradient (degrees)', fontsize=15.5, color=INK)
ax_a.yaxis.set_label_coords(-0.098, 0.5)
ax_a.yaxis.label.set_verticalalignment('center')
ax_a.set_xlabel('Mean Annual Precipitation (m yr$^{\u22121}$)', fontsize=15.5, color=INK)
ax_a.xaxis.set_label_coords(0.517, -0.102)
ax_a.xaxis.label.set_verticalalignment('center')

# panel b
style_axes(ax_b, 56.4, range(0, 51, 10))
x, y = unzip(B_PINK)
ax_b.scatter(x, y, s=MS, marker='s', c=PINK_FACE, edgecolors=PINK_EDGE, linewidths=0.6, zorder=2)
ax_b.plot(B_FIT_X, B_FIT_Y, color=GREEN_LINE, lw=5, solid_capstyle='butt', zorder=2.5)
x, y = unzip(B_GREEN)
ax_b.scatter(x, y, s=MS, marker='s', c=GREEN_FACE, edgecolors=GREEN_EDGE, linewidths=0.4, zorder=3)
legend_table(ax_b, ((26.94, 29.34), 40, 10),
             [34.98, 44.94, 51.99, 37.6, 38.12, 46.86, 53.95], [33.84, 32.05, 30.19], B_R)
ax_b.set_ylabel('Mean Hillslope Gradient (degrees)', fontsize=15.5, color=INK)
ax_b.yaxis.set_label_coords(-0.108, 0.5)
ax_b.yaxis.label.set_verticalalignment('center')
ax_b.set_xlabel('Mean Precipitation Intensity (mm day$^{\u22121}$)', fontsize=15.5, color=INK)
ax_b.xaxis.set_label_coords(0.503, -0.098)
ax_b.xaxis.label.set_verticalalignment('center')

fig.text(0.031, 0.984, 'a', fontsize=17, fontweight='bold', color=INK, ha='center', va='center')
fig.text(0.031, 0.474, 'b', fontsize=17, fontweight='bold', color=INK, ha='center', va='center')

fig.savefig('out.png', dpi=100)
